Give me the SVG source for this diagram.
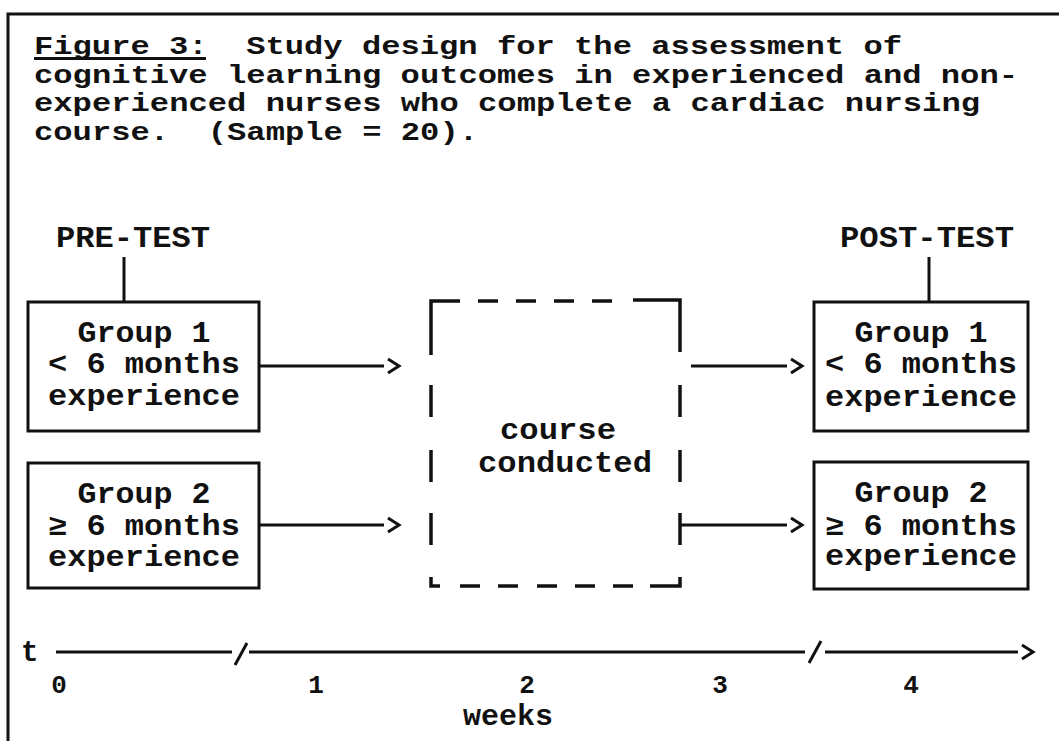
<svg xmlns="http://www.w3.org/2000/svg" width="1059" height="741" viewBox="0 0 1059 741" xml:space="preserve">
<style>
  text { font-family: "Liberation Mono", "DejaVu Sans Mono", monospace; font-weight: bold; fill: #111; white-space: pre; }
  .cap { font-size: 26px; }
  .lbl { font-size: 29px; }
  .box { fill: #fff; stroke: #111; stroke-width: 3; }
  .ln { stroke: #111; stroke-width: 3; fill: none; }
  .dash { stroke: #111; stroke-width: 3.5; fill: none; stroke-linecap: butt; }
  .num { font-size: 26px; }
</style>
<defs>
  <marker id="chev" markerUnits="userSpaceOnUse" markerWidth="24" markerHeight="24" refX="-4" refY="8" orient="auto" overflow="visible">
    <path d="M0,1 L11,8 L0,15" fill="none" stroke="#111" stroke-width="3"/>
  </marker>
</defs>
<rect width="1059" height="741" fill="#fff"/>
<g id="frame">
  <path class="ln" d="M8,741 V14 H1059"/>
</g>
<g id="caption">
  <text class="cap" x="34" y="54" textLength="868" lengthAdjust="spacingAndGlyphs">Figure 3:  Study design for the assessment of</text>
  <text class="cap" x="34" y="82.5" textLength="984" lengthAdjust="spacingAndGlyphs">cognitive learning outcomes in experienced and non-</text>
  <text class="cap" x="34" y="111" textLength="946" lengthAdjust="spacingAndGlyphs">experienced nurses who complete a cardiac nursing</text>
  <text class="cap" x="34" y="139.5" textLength="444" lengthAdjust="spacingAndGlyphs">course.  (Sample = 20).</text>
  <line class="ln" x1="34" y1="58.5" x2="206" y2="58.5" stroke-width="2"/>
</g>
<g id="pre-test">
  <text class="lbl" x="56" y="247" textLength="154" lengthAdjust="spacingAndGlyphs">PRE-TEST</text>
  <line class="ln" x1="124" y1="257" x2="124" y2="302" stroke-width="2.5"/>
</g>
<g id="post-test">
  <text class="lbl" x="840" y="247" textLength="174" lengthAdjust="spacingAndGlyphs">POST-TEST</text>
  <line class="ln" x1="929" y1="257" x2="929" y2="302" stroke-width="2.5"/>
</g>
<g id="pre-group1">
  <rect class="box" x="28" y="302" width="231" height="129"/>
  <text class="lbl" x="144" y="342" text-anchor="middle" textLength="133" lengthAdjust="spacingAndGlyphs">Group 1</text>
  <text class="lbl" x="144" y="373" text-anchor="middle" textLength="192" lengthAdjust="spacingAndGlyphs">&lt; 6 months</text>
  <text class="lbl" x="144" y="405" text-anchor="middle" textLength="192" lengthAdjust="spacingAndGlyphs">experience</text>
</g>
<g id="pre-group2">
  <rect class="box" x="28" y="463" width="231" height="125"/>
  <text class="lbl" x="144" y="503" text-anchor="middle" textLength="133" lengthAdjust="spacingAndGlyphs">Group 2</text>
  <text class="lbl" x="144" y="535" text-anchor="middle" textLength="192" lengthAdjust="spacingAndGlyphs">≥ 6 months</text>
  <text class="lbl" x="144" y="566" text-anchor="middle" textLength="192" lengthAdjust="spacingAndGlyphs">experience</text>
</g>
<g id="course">
  <path class="dash" d="M431,355 V301 H460 M478,301 H498 M516,301 H536 M554,301 H574 M592,301 H612 M633,300 H680 V352"/>
  <path class="dash" d="M431,385 V417 M431,450 V482 M431,513 V545 M431,577 V586 H440"/>
  <path class="dash" d="M680,385 V417 M680,450 V482 M680,513 V545 M680,577 V586 H650"/>
  <path class="dash" d="M460,586 H480 M498,586 H518 M537,586 H557 M575,586 H595 M613,586 H633"/>
  <text class="lbl" x="500" y="439" textLength="116" lengthAdjust="spacingAndGlyphs">course</text>
  <text class="lbl" x="478" y="472" textLength="174" lengthAdjust="spacingAndGlyphs">conducted</text>
</g>
<g id="post-group1">
  <rect class="box" x="814" y="302" width="214" height="129"/>
  <text class="lbl" x="921" y="342" text-anchor="middle" textLength="133" lengthAdjust="spacingAndGlyphs">Group 1</text>
  <text class="lbl" x="921" y="373" text-anchor="middle" textLength="192" lengthAdjust="spacingAndGlyphs">&lt; 6 months</text>
  <text class="lbl" x="921" y="406" text-anchor="middle" textLength="192" lengthAdjust="spacingAndGlyphs">experience</text>
</g>
<g id="post-group2">
  <rect class="box" x="814" y="462" width="214" height="127"/>
  <text class="lbl" x="921" y="502" text-anchor="middle" textLength="133" lengthAdjust="spacingAndGlyphs">Group 2</text>
  <text class="lbl" x="921" y="535" text-anchor="middle" textLength="192" lengthAdjust="spacingAndGlyphs">≥ 6 months</text>
  <text class="lbl" x="921" y="565" text-anchor="middle" textLength="192" lengthAdjust="spacingAndGlyphs">experience</text>
</g>
<g id="connectors">
  <line class="ln" x1="259" y1="366" x2="384" y2="366" marker-end="url(#chev)"/>
  <line class="ln" x1="259" y1="525" x2="384" y2="525" marker-end="url(#chev)"/>
  <line class="ln" x1="691" y1="366" x2="787" y2="366" marker-end="url(#chev)"/>
  <line class="ln" x1="680" y1="525" x2="787" y2="525" marker-end="url(#chev)"/>
</g>
<g id="timeline">
  <text class="lbl" x="21" y="661">t</text>
  <path class="ln" d="M56,652 H232 M249,652 H805"/>
  <line class="ln" x1="825" y1="652" x2="1018" y2="652" marker-end="url(#chev)"/>
  <path class="ln" d="M235,665 L247,643 M809,663 L821,641"/>
  <text class="num" x="59" y="693" text-anchor="middle">0</text>
  <text class="num" x="316" y="693" text-anchor="middle">1</text>
  <text class="num" x="527" y="693" text-anchor="middle">2</text>
  <text class="num" x="720" y="693" text-anchor="middle">3</text>
  <text class="num" x="911" y="693" text-anchor="middle">4</text>
  <text class="lbl" x="508" y="725" text-anchor="middle" textLength="90" lengthAdjust="spacingAndGlyphs">weeks</text>
</g>
</svg>
